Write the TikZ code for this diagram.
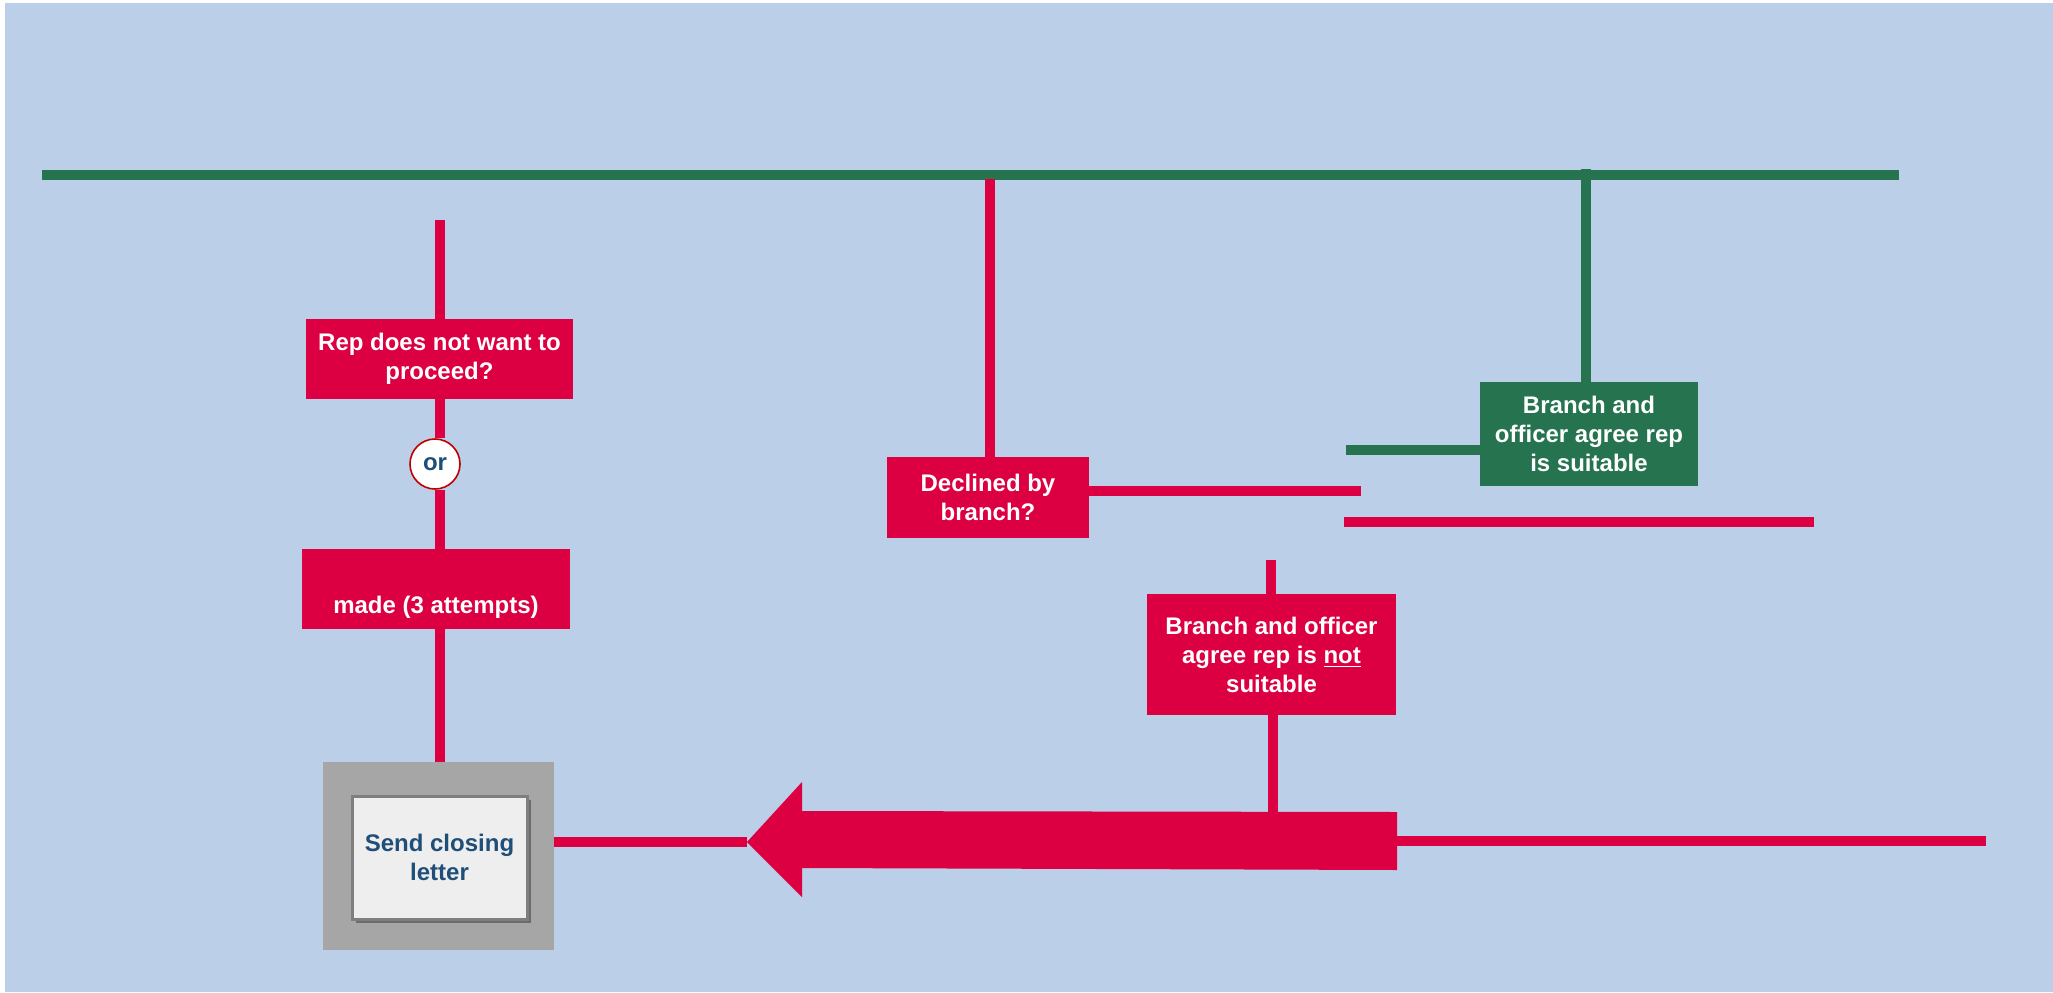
\documentclass[tikz,border=0pt]{standalone}
\usepackage{fontspec}
\setmainfont{Liberation Sans}
\usetikzlibrary{shadows,calc}
\definecolor{bgblue}{RGB}{187,207,232}
\definecolor{crim}{RGB}{220,0,66}
\definecolor{dgreen}{RGB}{38,115,80}
\definecolor{txtblue}{RGB}{31,78,121}
\definecolor{boxgray}{RGB}{166,166,166}
\definecolor{edgegray}{RGB}{127,127,127}
\definecolor{paper}{RGB}{238,238,238}
\tikzset{
  redbox/.style={fill=crim, draw=none, inner sep=0pt, align=center, text=white, font=\bfseries\fontsize{12}{14.5}\selectfont},
  greenbox/.style={fill=dgreen, draw=none, inner sep=0pt, align=center, text=white, font=\bfseries\fontsize{12}{14.5}\selectfont},
  redline/.style={draw=crim, line width=4.8pt},
  greenline/.style={draw=dgreen, line width=4.8pt},
  orcircle/.style={circle, fill=white, draw=red!75!black, line width=0.8pt, inner sep=0pt, minimum size=25pt, text=txtblue, font=\bfseries\fontsize{12}{14.5}\selectfont},
  graybox/.style={fill=boxgray, draw=none, inner sep=0pt},
  letterbox/.style={fill=paper, draw=edgegray, line width=1.5pt, inner sep=0pt, align=center, text=txtblue, font=\bfseries\fontsize{12}{14.5}\selectfont,
    drop shadow={shadow xshift=2pt, shadow yshift=-2pt, fill=black, opacity=0.35}},
}
\begin{document}
\begin{tikzpicture}[x=0.5pt,y=-0.5pt]
\useasboundingbox (0,0) rectangle (2053,992);
\fill[white] (0,0) rectangle (2053,992);
\fill[bgblue] (5,3) rectangle (2053,992);

% nodes
\node[redbox, minimum width=133.5pt, minimum height=40pt] (rep) at (439.5,359) {Rep does not want to\\proceed?};
\node[orcircle] (or) at (435,464) {or};
\node[redbox, minimum width=134pt, minimum height=40pt] (made) at (436,589) {\vphantom{Xg}\\[4pt]made (3 attempts)};
\node[graybox, minimum width=115.5pt, minimum height=94pt] (grayb) at (438.5,856) {};
\node[letterbox, minimum width=87.5pt, minimum height=61.5pt] (send) at (439.5,857.5) {Send closing\\letter};
\node[redbox, minimum width=101pt, minimum height=40.5pt] (declined) at (988,497.5) {Declined by\\branch?};
\node[greenbox, minimum width=109pt, minimum height=52pt] (suit) at (1589,434) {Branch and\\officer agree rep\\is suitable};
\node[redbox, minimum width=124.5pt, minimum height=60.5pt] (notsuit) at (1271.5,654.5) {Branch and officer\\agree rep is \underline{not}\\suitable};

% free ends
\coordinate (gl) at (42,175);
\coordinate (gr) at (1899,175);
\coordinate (gv) at (1586,169);
\coordinate (midtop) at (990,179);
\coordinate (lefttop) at (440,220);
\coordinate (declr) at (1361,491);
\coordinate (gshort) at (1346,450);
\coordinate (rl1) at (1344,522);
\coordinate (rl2) at (1814,522);
\coordinate (nstop) at (1271,560);
\coordinate (shaftr) at (1397,841);
\coordinate (rightend) at (1986,841);
\coordinate (tip) at (747,842);

% green lines
\draw[greenline] (gl) -- (gr);
\draw[greenline] (gv) -- (gv |- suit.north);
\draw[greenline] (gshort) -- (gshort -| suit.west);

% red lines
\draw[redline] (midtop) -- (midtop |- declined.north);
\draw[redline] (lefttop) -- (lefttop |- rep.north);
\draw[redline] (lefttop |- rep.south) -- (lefttop |- or.north);
\draw[redline] (lefttop |- or.south) -- (lefttop |- made.north);
\draw[redline] (lefttop |- made.south) -- (lefttop |- grayb.north);
\draw[redline] (declr -| declined.east) -- (declr);
\draw[redline] (rl1) -- (rl2);
\draw[redline] (nstop) -- (nstop |- notsuit.north);
\draw[redline] (1273,715) -- (1273,814);
\draw[redline] (tip -| grayb.east) -- (tip);
\draw[redline] (shaftr) -- (rightend);

% big arrow
\fill[crim] (tip) -- (802,782) -- (802,811) -- (1397,812) -- (1397,870) -- (802,868) -- (802,897) -- cycle;
\end{tikzpicture}
\end{document}
